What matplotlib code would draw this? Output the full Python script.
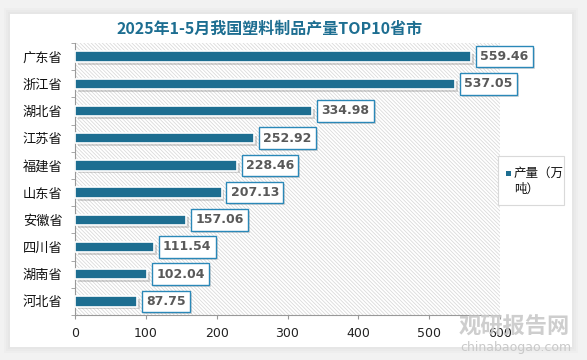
import matplotlib
matplotlib.use("Agg")
import matplotlib.pyplot as plt
from matplotlib.patches import Rectangle
import matplotlib.patheffects as pe

plt.rcParams['font.family'] = ['Noto Sans CJK SC', 'DejaVu Sans']
plt.rcParams['hatch.color'] = '#d8d8d8'
plt.rcParams['hatch.linewidth'] = 0.55

provinces = ['广东省', '浙江省', '湖北省', '江苏省', '福建省', '山东省', '安徽省', '四川省', '湖南省', '河北省']
values = [559.46, 537.05, 334.98, 252.92, 228.46, 207.13, 157.06, 111.54, 102.04, 87.75]
xticks = [0, 100, 200, 300, 400, 500, 600]
title = '2025年1-5月我国塑料制品产量TOP10省市'
legend_label = '产量（万\n吨）'

W, H = 587, 360
fig = plt.figure(figsize=(W / 100, H / 100), dpi=100)
fig.patch.set_facecolor('#f2f2f2')

# white card with soft shadow
for i, a in enumerate([0.05, 0.05, 0.06]):
    d = (3 - i) * 2
    fig.patches.append(Rectangle(((10 - d) / W, (13 - d) / H), (562 + 2 * d) / W, (333 + 2 * d) / H,
                                 transform=fig.transFigure, facecolor='#b0b0b0', alpha=a,
                                 edgecolor='none', zorder=-3))
fig.patches.append(Rectangle((10 / W, 13 / H), 562 / W, 333 / H, transform=fig.transFigure,
                             facecolor='white', edgecolor='none', zorder=-2))

ax = fig.add_axes([75 / W, 1 - 315 / H, 425 / W, 272 / H])
ax.set_zorder(1)
ax.set_facecolor('white')
ax.add_patch(Rectangle((0, 0), 1, 1, transform=ax.transAxes, facecolor='white',
                       edgecolor='#d8d8d8', linewidth=0, hatch='\\' * 9, zorder=0))

n = len(provinces)
ypos = list(range(n))[::-1]
bars = ax.barh(ypos, values, height=0.38, color='#1d6e91', edgecolor='white', linewidth=1.2, zorder=3)
for b in bars:
    b.set_path_effects([pe.SimplePatchShadow(offset=(2, -2), shadow_rgbFace='#888888', alpha=0.35), pe.Normal()])

for y, v in zip(ypos, values):
    t = ax.annotate(f'{v:.2f}', xy=(v, y), xytext=(6.5, 0), textcoords='offset points',
                    ha='left', va='center', fontsize=9, fontweight='bold', color='#595959',
                    family=['DejaVu Sans'], zorder=5, annotation_clip=False,
                    bbox=dict(boxstyle='square,pad=0.34', facecolor='white', edgecolor='#2a88b8', linewidth=1.0))
    t.get_bbox_patch().set_path_effects([pe.SimplePatchShadow(offset=(1.5, -1.5), shadow_rgbFace='#999999', alpha=0.35), pe.Normal()])

ax.set_xlim(0, 600)
ax.set_ylim(-0.5, n - 0.5)
ax.set_xticks(xticks)
ax.set_xticklabels([str(x) for x in xticks], fontsize=9, color='#222222', family=['DejaVu Sans'])
ax.set_yticks(ypos)
ax.set_yticklabels(provinces, fontsize=9.5, color='#111111')
ax.set_yticks([i - 0.5 for i in range(n + 1)], minor=True)
ax.tick_params(axis='y', which='major', length=0, pad=9)
ax.tick_params(axis='y', which='minor', length=3, color='#999999', direction='out')
ax.tick_params(axis='x', length=3, color='#999999', pad=5.5)
for s in ['top', 'right']:
    ax.spines[s].set_visible(False)
for s in ['left', 'bottom']:
    ax.spines[s].set_color('#999999')
    ax.spines[s].set_linewidth(0.8)

fig.text(270 / W, 1 - 29 / H, title, ha='center', va='center', fontsize=11.5,
         fontweight='bold', color='#1d6e91')

# legend
fig.patches.append(Rectangle((498 / W, 1 - 205 / H), 66 / W, 49 / H, transform=fig.transFigure,
                             facecolor='white', edgecolor='#d9d9d9', linewidth=0.8, zorder=2))
fig.patches.append(Rectangle((506 / W, 1 - 176 / H), 5 / W, 5 / H, transform=fig.transFigure,
                             facecolor='#1d6e91', edgecolor='none', zorder=3))
fig.text(514 / W, 1 - 181.5 / H, legend_label, ha='left', va='center', fontsize=9,
         color='#111111', linespacing=1.35, zorder=4)

# watermark
fig.text(514 / W, 1 - 327 / H, '观研报告网', ha='center', va='center', fontsize=16,
         fontweight='bold', color='#c9c9c9', alpha=0.9, zorder=10)
fig.text(516 / W, 1 - 348 / H, 'chinabaogao.com', ha='center', va='center', fontsize=9,
         color='#c9c9c9', family=['DejaVu Sans'], zorder=10)

fig.savefig('out.png', dpi=100, facecolor=fig.get_facecolor())
